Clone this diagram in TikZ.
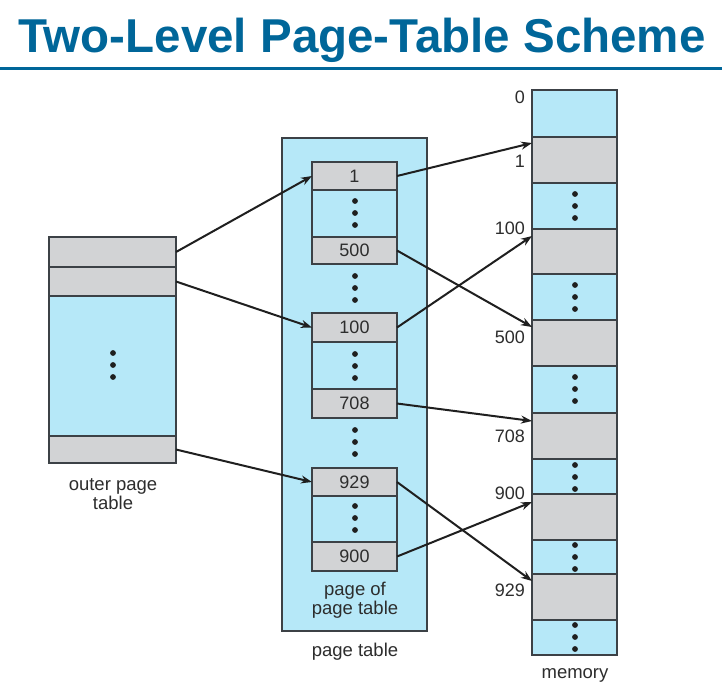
\documentclass[tikz,border=0pt]{standalone}
\usepackage{fontspec}
\setmainfont{Liberation Sans}
\usetikzlibrary{arrows.meta}
\definecolor{titleblue}{RGB}{0,102,153}
\definecolor{cellblue}{RGB}{182,232,248}
\definecolor{cellgray}{RGB}{210,211,213}
\definecolor{edgegray}{RGB}{60,65,70}
\definecolor{txt}{RGB}{45,45,45}
\tikzset{
  cell/.style={draw=edgegray, line width=1.1pt, inner sep=0pt, outer sep=0pt,
    anchor=north west, text=txt, font=\fontsize{18}{18}\selectfont},
  gcell/.style={cell, fill=cellgray},
  bcell/.style={cell, fill=cellblue},
  lbl/.style={text=txt, font=\fontsize{18.5}{19.5}\selectfont, align=center, inner sep=0pt},
  addr/.style={text=txt, font=\fontsize{18}{18}\selectfont, anchor=east, inner sep=0pt},
  link/.style={line width=2pt, draw=black!88, -{Stealth[length=11pt,width=8pt]}},
}
\newcommand{\dotcol}[2]{%
  \foreach \dy in {-12,0,12} \fill[black!88] (#1,#2+\dy) circle (2.9pt);}
\begin{document}
\begin{tikzpicture}[x=1pt,y=-1pt]
\useasboundingbox (0,0) rectangle (722,697);
\fill[white] (0,0) rectangle (722,697);

% title and rule
\node[text=titleblue, font=\fontsize{47.5}{47.5}\selectfont\bfseries, anchor=base] (title) at (362,52) {Two-Level Page-Table Scheme};
\fill[titleblue] (0,66.5) rectangle (722,70);

% outer page table
\node[gcell, minimum width=127pt, minimum height=30pt] (o1) at (49,237) {};
\node[gcell, minimum width=127pt, minimum height=29pt] (o2) at (49,267) {};
\node[bcell, minimum width=127pt, minimum height=140pt] (o3) at (49,296) {};
\node[gcell, minimum width=127pt, minimum height=27pt] (o4) at (49,436) {};
\dotcol{113}{365}
\node[lbl] (olbl) at (113,494) {outer page\\table};

% page table with its pages
\node[bcell, minimum width=145pt, minimum height=493pt] (pt) at (282,138) {};
\node[lbl] (ptlbl) at (355,652) {page table};

\node[gcell, minimum width=85pt, minimum height=28pt] (e1) at (312,162) {1};
\node[bcell, minimum width=85pt, minimum height=47pt] (b1) at (312,190) {};
\node[gcell, minimum width=85pt, minimum height=27pt] (e500) at (312,237) {500};
\dotcol{355}{213}
\dotcol{355}{288}

\node[gcell, minimum width=85pt, minimum height=29pt] (e100) at (312,313) {100};
\node[bcell, minimum width=85pt, minimum height=47pt] (b2) at (312,342) {};
\node[gcell, minimum width=85pt, minimum height=29pt] (e708) at (312,389) {708};
\dotcol{355}{366}
\dotcol{355}{442}

\node[gcell, minimum width=85pt, minimum height=28pt] (e929) at (312,468) {929};
\node[bcell, minimum width=85pt, minimum height=46pt] (b3) at (312,496) {};
\node[gcell, minimum width=85pt, minimum height=29pt] (e900) at (312,542) {900};
\dotcol{355}{518}
\node[lbl] (poplbl) at (355,600) {page of\\page table};

% memory
\node[bcell, minimum width=85pt, minimum height=47pt] (m0) at (532,90) {};
\node[gcell, minimum width=85pt, minimum height=46pt] (m1) at (532,137) {};
\node[bcell, minimum width=85pt, minimum height=46pt] (ma) at (532,183) {};
\node[gcell, minimum width=85pt, minimum height=45pt] (m100) at (532,229) {};
\node[bcell, minimum width=85pt, minimum height=46pt] (mb) at (532,274) {};
\node[gcell, minimum width=85pt, minimum height=46pt] (m500) at (532,320) {};
\node[bcell, minimum width=85pt, minimum height=47pt] (mc) at (532,366) {};
\node[gcell, minimum width=85pt, minimum height=46pt] (m708) at (532,413) {};
\node[bcell, minimum width=85pt, minimum height=35pt] (md) at (532,459) {};
\node[gcell, minimum width=85pt, minimum height=46pt] (m900) at (532,494) {};
\node[bcell, minimum width=85pt, minimum height=34pt] (me) at (532,540) {};
\node[gcell, minimum width=85pt, minimum height=46pt] (m929) at (532,574) {};
\node[bcell, minimum width=85pt, minimum height=35pt] (mf) at (532,620) {};
\dotcol{575}{206}
\dotcol{575}{297}
\dotcol{575}{389}
\dotcol{575}{477}
\dotcol{575}{557}
\dotcol{575}{637}
\node[lbl] (memlbl) at (575,675) {memory};

\node[addr] (a0) at (525,97) {0};
\node[addr] (a1) at (525,161) {1};
\node[addr] (a100) at (525,228) {100};
\node[addr] (a500) at (525,337) {500};
\node[addr] (a708) at (525,436) {708};
\node[addr] (a900) at (525,493) {900};
\node[addr] (a929) at (525,590) {929};

% outer table -> pages of the page table
\draw[link] (o1.east) -- (e1.west);
\draw[link] (o2.east) -- (e100.west);
\draw[link] (o4.east) -- (e929.west);

% page table entries -> frames in memory
\draw[link] (e1.east) -- ([yshift=-6pt]m1.north west);
\draw[link] (e500.east) -- ([yshift=-7pt]m500.north west);
\draw[link] (e100.east) -- ([yshift=-7pt]m100.north west);
\draw[link] (e708.east) -- ([yshift=-8pt]m708.north west);
\draw[link] (e929.east) -- ([yshift=-7pt]m929.north west);
\draw[link] (e900.east) -- ([yshift=-8pt]m900.north west);
\end{tikzpicture}
\end{document}
